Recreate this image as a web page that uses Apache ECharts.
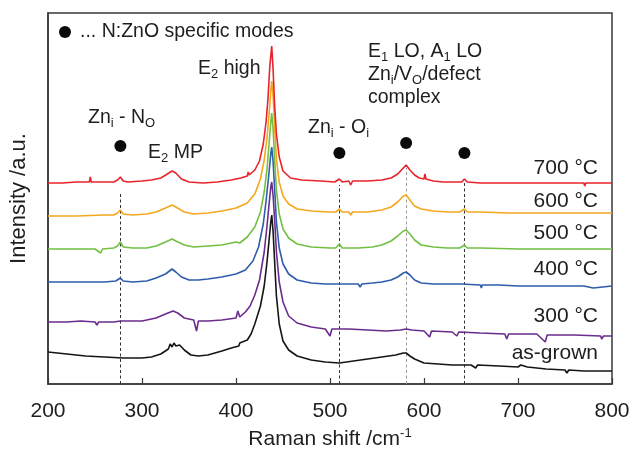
<!DOCTYPE html>
<html><head><meta charset="utf-8">
<script src="https://cdn.jsdelivr.net/npm/echarts/dist/echarts.min.js"></script>
<style>html,body{margin:0;padding:0;background:#fff}#c{width:632px;height:449px}</style>
</head><body><div id="c"></div>
<script>
// ---- data (Raman shift cm-1, offset intensity a.u.) ----
const asGrown = [[200,32],[220,30],[240,28],[260,27],[280,26],[300,26],[310,27],[320,30],[328,35],[330,40],[332,37],[334,41],[336,38],[340,39],[345,34],[352,29],[360,28],[370,29],[385,33],[395,36],[403,38],[404,41],[406,39],[412,44],[416,50],[420,60],[426,78],[430,98],[433,122],[435,142],[437,162],[438,169],[439.5,152],[441.5,115],[443,88],[446,60],[450,43],[456,34],[465,28],[480,24],[495,22],[510,21],[525,23],[540,25],[555,27],[570,29],[578,31],[581,31],[585,28],[590,25],[600,21],[615,20],[630,19],[650,19],[655,16],[657,19],[680,18],[700,17],[703,19],[710,17],[730,15],[750,14],[752,11],[754,14],[770,13],[800,13]];
const t300 = [[200,62],[220,62],[235,63],[236,65],[237,62],[250,62],[252,59],[254,62],[270,62],[277,63],[290,63],[300,63],[315,66],[325,70],[333,73],[338,71],[345,66],[355,64],[358,53],[360,63],[370,63],[385,64],[400,66],[402,73],[404,67],[410,72],[415,78],[420,89],[425,104],[430,132],[433,158],[435,178],[437,197],[438,202],[439.5,188],[441.5,158],[443,132],[446,102],[450,82],[456,68],[465,61],[480,57],[495,55],[500,48],[502,55],[520,55],[540,54],[560,53],[575,54],[581,55],[587,54],[600,53],[606,47],[608,53],[630,52],[635,48],[637,52],[660,51],[686,50],[688,45],[690,50],[720,50],[729,42],[731,49],[760,49],[788,48],[789,45],[791,48],[800,48]];
const t400 = [[200,102],[220,102],[240,102],[260,102],[272,103],[277,106],[280,103],[290,102],[305,103],[315,106],[325,110],[332,115],[336,112],[342,107],[350,104],[360,104],[370,105],[385,107],[400,110],[410,114],[418,123],[424,137],[429,160],[432,183],[435,210],[437,230],[438,237],[439.5,222],[441.5,188],[443,162],[446,136],[450,120],[456,110],[465,104],[480,101],[495,100],[510,100],[520,100],[530,100],[532,97],[534,100],[545,101],[555,102],[565,104],[572,107],[578,111],[581,112],[585,109],[590,104],[597,101],[610,100],[625,100],[640,100],[660,99],[661,96],[662,99],[680,99],[700,98],[740,98],[770,98],[780,96],[782,98],[800,98]];
const t500 = [[200,135],[230,135],[250,135],[256,131],[258,135],[270,136],[274,138],[277,142],[280,137],[290,136],[305,136],[315,138],[325,142],[332,145],[336,143],[345,139],[355,137],[370,138],[385,139],[400,142],[404,141],[412,147],[420,157],[426,172],[430,192],[433,215],[435,238],[437,262],[438,271],[439.5,255],[441.5,218],[443,194],[446,170],[450,155],[456,146],[465,140],[480,137],[500,136],[506,136],[510,140],[513,136],[530,136],[545,137],[555,139],[565,143],[572,148],[578,153],[581,154],[585,150],[590,144],[597,139],[610,137],[625,136],[638,136],[643,139],[646,136],[660,136],[700,135],[750,135],[800,135]];
const t600 = [[200,168],[230,168],[260,169],[270,169],[274,171],[277,174],[280,170],[290,169],[305,170],[315,172],[325,176],[332,179],[336,177],[345,172],[355,170],[370,171],[385,173],[400,176],[412,181],[420,190],[426,205],[430,224],[433,246],[435,268],[437,292],[438,303],[439.5,288],[441.5,250],[443,225],[446,202],[450,188],[456,180],[465,175],[480,173],[500,172],[506,172],[510,175],[513,172],[520,172],[522,169],[524,172],[540,172],[555,174],[565,177],[572,182],[578,188],[581,189],[585,184],[590,178],[597,175],[610,173],[625,172],[638,172],[643,175],[646,172],[660,172],[690,171],[720,171],[760,171],[800,171]];
const t700 = [[200,201],[215,201],[230,202],[244,202],[245,207],[246,202],[260,202],[270,202],[274,204],[277,207],[280,203],[285,202],[300,203],[310,204],[320,206],[327,210],[332,213],[336,211],[342,205],[350,202],[365,201],[380,202],[395,204],[405,206],[412,208],[413,212],[414,209],[420,214],[425,223],[429,240],[432,262],[434,285],[436,318],[438,338],[439.5,314],[441,280],[443,250],[446,227],[450,213],[458,206],[470,204],[490,203],[505,202],[510,205],[513,202],[520,203],[522,199],[524,203],[540,203],[555,204],[565,206],[572,210],[578,216],[581,219],[585,214],[590,209],[595,206],[600,205],[601,210],[602,205],[610,203],[620,202],[630,202],[640,202],[643,205],[646,202],[660,201],[680,201],[700,201],[720,201],[740,201],[760,201],[770,201],[771,198],[772,201],[790,201],[800,201]];

const modeX = [277, 510, 581, 643];      // N:ZnO specific modes
const modeDotY = [238, 231, 241, 231];   // dot heights
const modeLineTop = [192, 199, 216, 201];// top of dashed guide
const modeLineColor = ['#333', '#333', '#9a9a9a', '#333'];

const seriesNames = ['as-grown', '300 °C', '400 °C', '500 °C', '600 °C', '700 °C'];
const seriesData = [asGrown, t300, t400, t500, t600, t700];
const seriesColors = ['#151515', '#6b2c8f', '#2f5cab', '#72bf44', '#f4a81d', '#e8232b'];
const tempLabelY = [353, 316, 269, 233, 201, 168];

const xTicks = [200, 300, 400, 500, 600, 700, 800];

// ---- chart ----
const FF = '"Liberation Sans", Arial, sans-serif';
const TXT = '#1e1e1e';
const chart = echarts.init(document.getElementById('c'), null, {renderer: 'canvas'});

function richStyle(size) {
  return {
    n: {fontSize: size, fontFamily: FF, lineHeight: 24, fill: TXT},
    s: {fontSize: 13, fontFamily: FF, lineHeight: 14, verticalAlign: 'bottom', fill: TXT}
  };
}
function annot(x, y, text) {
  return {type: 'text', x: x, y: y, silent: true,
    style: {text: text, align: 'left', verticalAlign: 'middle', fill: TXT,
      fontSize: 19.5, fontFamily: FF, rich: richStyle(19.5)}};
}

const lineSeries = seriesData.map((d, i) => ({
  type: 'line', name: seriesNames[i], data: d, showSymbol: false, symbol: 'none',
  lineStyle: {width: 1.6, color: seriesColors[i]}, itemStyle: {color: seriesColors[i]},
  z: 3 + i, silent: true
}));

const modeSeries = {
  type: 'scatter', name: '... N:ZnO specific modes',
  data: modeX.map((x, i) => [x, modeDotY[i]]),
  symbol: 'circle', symbolSize: 12, itemStyle: {color: '#0a0a0a', opacity: 1}, z: 20, silent: true,
  markLine: {
    silent: true, symbol: ['none', 'none'], label: {show: false}, z: 1,
    data: modeX.map((x, i) => [
      {coord: [x, 0], lineStyle: {color: modeLineColor[i], type: [3, 2.5], width: 1}},
      {coord: [x, modeLineTop[i]]}
    ])
  }
};

const graphics = [
  annot(198, 69, '{n|E}{s|2}{n| high}'),
  annot(88, 118, '{n|Zn}{s|i}{n| - N}{s|O}'),
  annot(148, 153, '{n|E}{s|2}{n| MP}'),
  annot(308, 128, '{n|Zn}{s|i}{n| - O}{s|i}'),
  annot(368, 52, '{n|E}{s|1}{n| LO, A}{s|1}{n| LO}'),
  annot(368, 75, '{n|Zn}{s|i}{n|/V}{s|O}{n|/defect}'),
  annot(368, 98, '{n|complex}')
].concat(seriesNames.map((nm, i) => ({
  type: 'text', x: 598, y: tempLabelY[i], silent: true,
  style: {text: nm, align: 'right', verticalAlign: 'middle', fill: TXT, fontSize: 21, fontFamily: FF}
})));

chart.setOption({
  animation: false,
  backgroundColor: '#fff',
  grid: {left: 48, right: 20, top: 13, bottom: 65, containLabel: false, outerBoundsMode: 'none',
    show: true, borderColor: '#3a3a3a', borderWidth: 1.5, backgroundColor: 'transparent'},
  legend: {
    data: [{name: '... N:ZnO specific modes', icon: 'circle', itemStyle: {color: '#0a0a0a', opacity: 1}}],
    left: 59, top: 22, padding: 0, itemWidth: 12, itemHeight: 12, itemGap: 0,
    selectedMode: false,
    textStyle: {fontSize: 19.5, fontFamily: FF, color: TXT, padding: [0, 0, 0, 4]}
  },
  xAxis: {
    type: 'value', min: 200, max: 800, interval: 100,
    name: 'Raman shift /cm{sup|-1}', nameLocation: 'middle', nameGap: 41,
    nameTextStyle: {fontSize: 21, fontFamily: FF, color: TXT, lineHeight: 24,
      rich: {sup: {fontSize: 13, fontFamily: FF, lineHeight: 12, verticalAlign: 'top', color: TXT}}},
    axisLine: {show: true, lineStyle: {color: '#3a3a3a', width: 1.5}},
    axisTick: {show: true, inside: true, length: 6, lineStyle: {color: '#3a3a3a', width: 1.2}},
    axisLabel: {fontSize: 21, fontFamily: FF, color: TXT, margin: 17,
      formatter: v => (xTicks.indexOf(v) >= 0 ? String(v) : '')},
    splitLine: {show: false}
  },
  yAxis: {
    type: 'value', min: 0, max: 371,
    name: 'Intensity /a.u.', nameLocation: 'middle', nameGap: 18,
    nameTextStyle: {fontSize: 22, fontFamily: FF, color: TXT},
    axisLine: {show: true, lineStyle: {color: '#3a3a3a', width: 1.5}},
    axisTick: {show: false}, axisLabel: {show: false}, splitLine: {show: false}
  },
  series: lineSeries.concat([modeSeries]),
  graphic: graphics
});
</script></body></html>
